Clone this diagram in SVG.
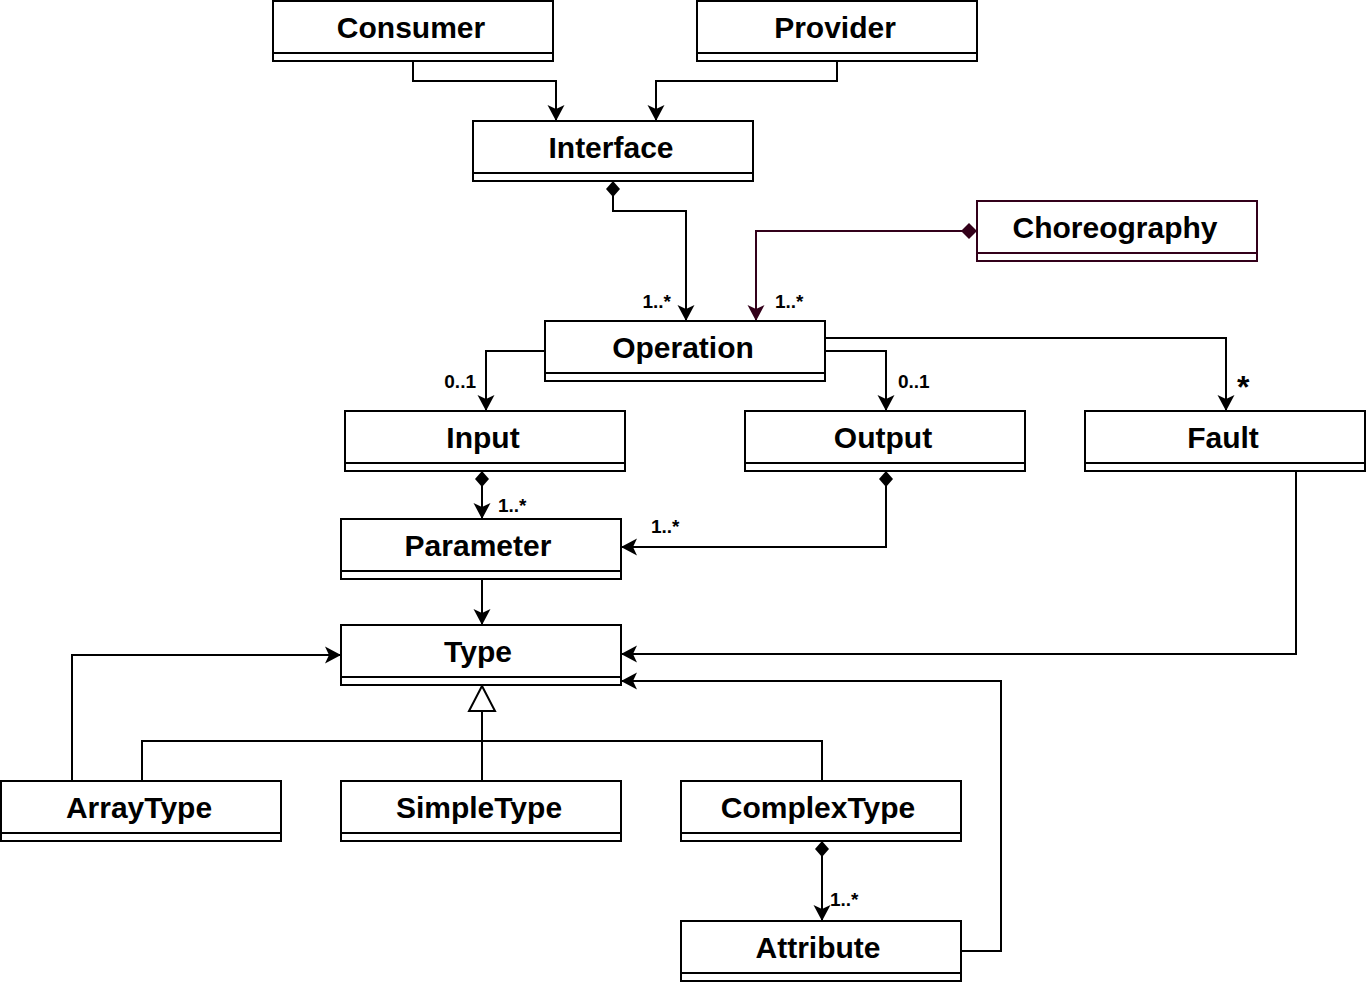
<svg xmlns="http://www.w3.org/2000/svg" width="1366" height="984" viewBox="0 0 1366 984">
<style>
.box{fill:#fff;stroke:#000;stroke-width:2}
.sep{stroke:#000;stroke-width:2}
.name{font-family:"Liberation Sans",Arial,sans-serif;font-weight:bold;font-size:30px;text-anchor:middle;fill:#000}
.lbl{font-family:"Liberation Sans",Arial,sans-serif;font-weight:bold;font-size:19px;fill:#000}
.c{fill:none;stroke:#000;stroke-width:2}
.m{stroke:#33001A}
.boxm{fill:#fff;stroke:#33001A;stroke-width:2}
</style>
<defs>
<marker id="arr" viewBox="-18 -10 20 20" refX="0" refY="0" markerWidth="20" markerHeight="20" markerUnits="userSpaceOnUse" orient="auto">
<path d="M0,0 L-16,-8.5 L-12,0 L-16,8.5 Z" fill="#000"/>
</marker>
<marker id="arrm" viewBox="-18 -10 20 20" refX="0" refY="0" markerWidth="20" markerHeight="20" markerUnits="userSpaceOnUse" orient="auto">
<path d="M0,0 L-16,-8.5 L-12,0 L-16,8.5 Z" fill="#33001A"/>
</marker>
<marker id="dia" viewBox="-1 -10 20 20" refX="0" refY="0" markerWidth="20" markerHeight="20" markerUnits="userSpaceOnUse" orient="auto">
<path d="M0,0 L8,-7 L16,0 L8,7 Z" fill="#000"/>
</marker>
<marker id="diam" viewBox="-1 -10 20 20" refX="0" refY="0" markerWidth="20" markerHeight="20" markerUnits="userSpaceOnUse" orient="auto">
<path d="M0,0 L8,-8 L16,0 L8,8 Z" fill="#33001A"/>
</marker>
</defs>
<rect width="1366" height="984" fill="#fff"/>

<g id="connectors">
<path class="c" d="M413,61 V81 H556 V121" marker-end="url(#arr)"/>
<path class="c" d="M837,61 V81 H656 V121" marker-end="url(#arr)"/>
<path class="c" d="M613,181 V211 H686 V321" marker-start="url(#dia)" marker-end="url(#arr)"/>
<path class="c m" d="M977,231 H756 V321" marker-start="url(#diam)" marker-end="url(#arrm)"/>
<path class="c" d="M545,351 H486 V411" marker-end="url(#arr)"/>
<path class="c" d="M825,351 H886 V411" marker-end="url(#arr)"/>
<path class="c" d="M825,338 H1226 V411" marker-end="url(#arr)"/>
<path class="c" d="M482,471 V519" marker-start="url(#dia)" marker-end="url(#arr)"/>
<path class="c" d="M886,471 V547 H621" marker-start="url(#dia)" marker-end="url(#arr)"/>
<path class="c" d="M482,579 V625" marker-end="url(#arr)"/>
<path class="c" d="M1296,471 V654 H621" marker-end="url(#arr)"/>
<path class="c" d="M72,781 V655 H341" marker-end="url(#arr)"/>
<path class="c" d="M142,781 V741 H822 V781"/>
<path class="c" d="M482,781 V711"/>
<polygon points="482,686 469,711 495,711" fill="#fff" stroke="#000" stroke-width="2"/>
<path class="c" d="M822,841 V921" marker-start="url(#dia)" marker-end="url(#arr)"/>
<path class="c" d="M961,951 H1001 V681 H621" marker-end="url(#arr)"/>
<text class="lbl" x="671" y="308" text-anchor="end">1..*</text>
<text class="lbl" x="775" y="308">1..*</text>
<text class="lbl" x="476" y="388" text-anchor="end">0..1</text>
<text class="lbl" x="898" y="388">0..1</text>
<text class="lbl" x="1237" y="398" style="font-size:32px">*</text>
<text class="lbl" x="498" y="512">1..*</text>
<text class="lbl" x="651" y="533">1..*</text>
<text class="lbl" x="830" y="906">1..*</text>
</g>

<g id="consumer"><rect class="box" x="273" y="1" width="280" height="60"/><line class="sep" x1="273" y1="53" x2="553" y2="53"/><text class="name" x="411" y="38">Consumer</text></g>
<g id="provider"><rect class="box" x="697" y="1" width="280" height="60"/><line class="sep" x1="697" y1="53" x2="977" y2="53"/><text class="name" x="835" y="38">Provider</text></g>
<g id="interface"><rect class="box" x="473" y="121" width="280" height="60"/><line class="sep" x1="473" y1="173" x2="753" y2="173"/><text class="name" x="611" y="158">Interface</text></g>
<g id="choreography"><rect class="boxm" x="977" y="201" width="280" height="60"/><line class="sep" style="stroke:#33001A" x1="977" y1="253" x2="1257" y2="253"/><text class="name" x="1115" y="238">Choreography</text></g>
<g id="operation"><rect class="box" x="545" y="321" width="280" height="60"/><line class="sep" x1="545" y1="373" x2="825" y2="373"/><text class="name" x="683" y="358">Operation</text></g>
<g id="input"><rect class="box" x="345" y="411" width="280" height="60"/><line class="sep" x1="345" y1="463" x2="625" y2="463"/><text class="name" x="483" y="448">Input</text></g>
<g id="output"><rect class="box" x="745" y="411" width="280" height="60"/><line class="sep" x1="745" y1="463" x2="1025" y2="463"/><text class="name" x="883" y="448">Output</text></g>
<g id="fault"><rect class="box" x="1085" y="411" width="280" height="60"/><line class="sep" x1="1085" y1="463" x2="1365" y2="463"/><text class="name" x="1223" y="448">Fault</text></g>
<g id="parameter"><rect class="box" x="341" y="519" width="280" height="60"/><line class="sep" x1="341" y1="571" x2="621" y2="571"/><text class="name" x="478" y="556">Parameter</text></g>
<g id="type"><rect class="box" x="341" y="625" width="280" height="60"/><line class="sep" x1="341" y1="677" x2="621" y2="677"/><text class="name" x="478" y="662">Type</text></g>
<g id="arraytype"><rect class="box" x="1" y="781" width="280" height="60"/><line class="sep" x1="1" y1="833" x2="281" y2="833"/><text class="name" x="139" y="818">ArrayType</text></g>
<g id="simpletype"><rect class="box" x="341" y="781" width="280" height="60"/><line class="sep" x1="341" y1="833" x2="621" y2="833"/><text class="name" x="479" y="818">SimpleType</text></g>
<g id="complextype"><rect class="box" x="681" y="781" width="280" height="60"/><line class="sep" x1="681" y1="833" x2="961" y2="833"/><text class="name" x="818" y="818">ComplexType</text></g>
<g id="attribute"><rect class="box" x="681" y="921" width="280" height="60"/><line class="sep" x1="681" y1="973" x2="961" y2="973"/><text class="name" x="818" y="958">Attribute</text></g>
</svg>
